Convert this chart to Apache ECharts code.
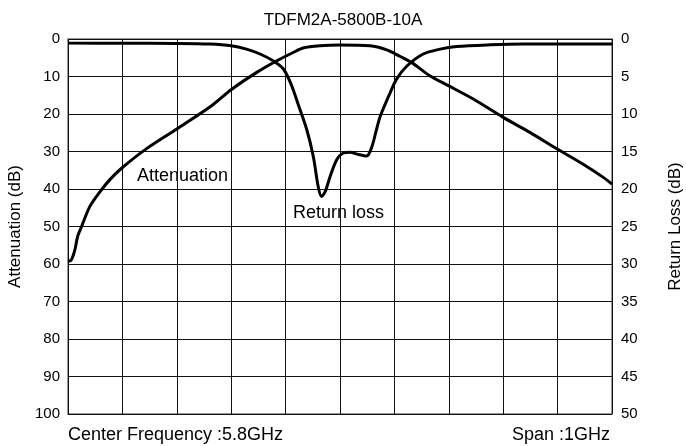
<!DOCTYPE html>
<html><head><meta charset="utf-8">
<script src="https://cdn.jsdelivr.net/npm/echarts@6/dist/echarts.min.js"></script>
<style>html,body{margin:0;padding:0;background:#fff}#c{width:686px;height:446px}</style>
</head><body><div id="c"></div>
<script>
// Frequency position in divisions (0..10 across 1 GHz span centred on 5.8 GHz)
var attX = [0,0.055,0.10,0.13,0.18,0.25,0.40,0.59,0.77,0.99,1.42,2.00,2.64,3.01,3.47,3.84,4.14,4.32,4.63,5.0,5.55,5.86,6.10,6.32,6.65,7.00,7.45,8.00,8.49,9.00,9.47,9.84,10];
var attenuation = [59.3,59.0,57.5,56,52.5,50,44.7,40.7,37.5,34.4,29.5,24,17.8,13.4,8.9,5.8,3.6,2.4,1.8,1.6,1.8,2.9,4.6,6.3,9.8,12.5,16,20.9,24.9,29.4,33.4,36.9,38.7];
var rlX = [0,1.0,2.0,2.6,3.0,3.28,3.53,3.77,3.96,4.11,4.24,4.39,4.51,4.60,4.66,4.73,4.82,4.94,5.06,5.18,5.34,5.49,5.58,5.67,5.74,5.92,6.04,6.23,6.53,6.84,7.14,7.76,8.37,10];
var returnLoss = [0.55,0.57,0.6,0.68,0.9,1.35,2.0,2.9,4.0,6.2,8.9,12.1,15.7,19.7,21.0,20.3,18.3,16.1,15.2,15.1,15.4,15.6,14.5,12.1,10.3,7.2,5.35,3.6,2.0,1.35,1.0,0.78,0.68,0.68];
var leftTicks = [0,10,20,30,40,50,60,70,80,90,100];
var rightTicks = [0,5,10,15,20,25,30,35,40,45,50];

function pairs(xs, ys){ return xs.map(function(x,i){return [x, ys[i]];}); }
var FONT = 'Liberation Sans, Arial, sans-serif';
var chart = echarts.init(document.getElementById('c'), null, {renderer:'canvas'});
chart.setOption({
  animation:false,
  backgroundColor:'#fff',
  textStyle:{fontFamily:FONT},
  title:{text:'TDFM2A-5800B-10A', left:'center', top:7,
    textStyle:{fontFamily:FONT, fontSize:17, fontWeight:'normal', color:'#000'}},
  grid:{left:68, right:74, top:39, bottom:32, show:true, borderColor:'#777', borderWidth:1.5, backgroundColor:'transparent',
    containLabel:false, outerBoundsMode:'none'},
  xAxis:{type:'value', min:0, max:10, interval:1,
    axisLine:{show:false}, axisTick:{show:false}, axisLabel:{show:false},
    splitLine:{show:true, lineStyle:{color:'#111', width:1}}},
  yAxis:[{type:'value', min:leftTicks[0], max:leftTicks[leftTicks.length-1], interval:10, inverse:true, position:'left',
      name:'Attenuation (dB)', nameLocation:'middle', nameGap:38, nameRotate:90,
      nameTextStyle:{fontFamily:FONT, fontSize:17, color:'#000'},
      axisLine:{show:false}, axisTick:{show:false},
      axisLabel:{color:'#000', fontSize:15, fontFamily:FONT, margin:8},
      splitLine:{show:true, lineStyle:{color:'#111', width:1}}},
    {type:'value', min:rightTicks[0], max:rightTicks[rightTicks.length-1], interval:5, inverse:true, position:'right',
      name:'Return Loss (dB)', nameLocation:'middle', nameGap:55, nameRotate:90,
      nameTextStyle:{fontFamily:FONT, fontSize:17, color:'#000'},
      axisLine:{show:false}, axisTick:{show:false},
      axisLabel:{color:'#000', fontSize:15, fontFamily:FONT, margin:9},
      splitLine:{show:false}}],
  series:[
    {name:'Attenuation', type:'line', yAxisIndex:0, data:pairs(attX, attenuation), smooth:0.3, symbol:'none',
      lineStyle:{color:'#000', width:3}},
    {name:'Return loss', type:'line', yAxisIndex:1, data:pairs(rlX, returnLoss), smooth:0.3, symbol:'none',
      lineStyle:{color:'#000', width:3}}
  ],
  graphic:[
    {type:'text', left:137, top:167, style:{text:'Attenuation', font:'18px '+FONT, fill:'#000'}},
    {type:'text', left:293, top:204, style:{text:'Return loss', font:'18px '+FONT, fill:'#000'}},
    {type:'text', left:68, top:426, style:{text:'Center Frequency :5.8GHz', font:'18px '+FONT, fill:'#000'}},
    {type:'text', right:76, top:426, style:{text:'Span :1GHz', font:'18px '+FONT, fill:'#000'}}
  ]
});
</script></body></html>
